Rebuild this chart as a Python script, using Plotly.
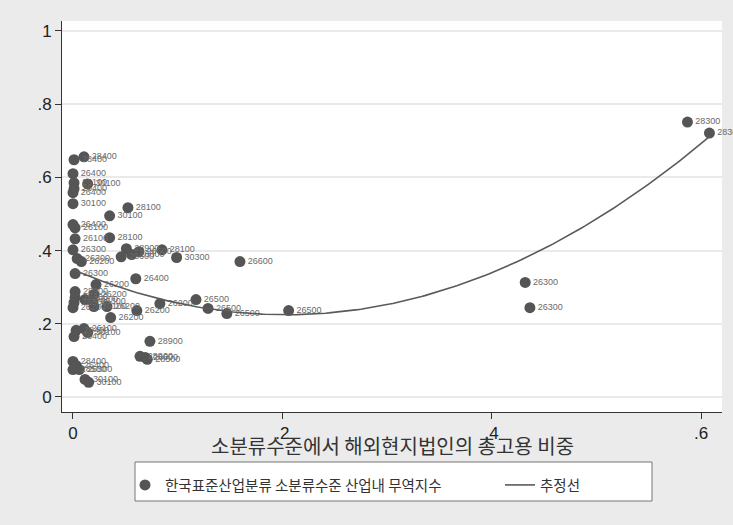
import numpy as np
import plotly.graph_objects as go

# Share of employment in overseas affiliates (x) vs intra-industry trade index (y)
emp_share = [0.0105, 0.001, 0.000, 0.001, 0.014, 0.001, 0.000, 0.000, 0.0525, 0.035,
             0.000, 0.002, 0.002, 0.035, 0.000, 0.004, 0.008, 0.051, 0.046, 0.056,
             0.063, 0.085, 0.099, 0.1595, 0.060, 0.002, 0.022, 0.002, 0.002, 0.001,
             0.000, 0.0115, 0.020, 0.019, 0.020, 0.0325, 0.061, 0.083, 0.1175, 0.129,
             0.147, 0.206, 0.036, 0.003, 0.0105, 0.014, 0.001, 0.0735, 0.064, 0.069,
             0.071, 0.000, 0.003, 0.000, 0.006, 0.0115, 0.015, 0.587, 0.608, 0.432,
             0.4365]
iit_index = [0.656, 0.648, 0.610, 0.585, 0.582, 0.569, 0.558, 0.528, 0.517, 0.495,
             0.471, 0.462, 0.432, 0.435, 0.402, 0.378, 0.370, 0.405, 0.383, 0.389,
             0.397, 0.402, 0.381, 0.370, 0.323, 0.337, 0.307, 0.288, 0.272, 0.258,
             0.244, 0.266, 0.280, 0.261, 0.247, 0.247, 0.236, 0.255, 0.266, 0.242,
             0.228, 0.236, 0.217, 0.182, 0.187, 0.176, 0.165, 0.152, 0.111, 0.108,
             0.103, 0.097, 0.086, 0.075, 0.075, 0.048, 0.040, 0.751, 0.721, 0.313,
             0.244]
ksic_code = ["28400", "28400", "26400", "26100", "30100", "26400", "26400", "30100", "28100", "30100",
             "26400", "26100", "26100", "28100", "26300", "26300", "26200", "28900", "26600", "26800",
             "26600", "28100", "30300", "26600", "26400", "26300", "26200", "28900", "26200", "26500",
             "26200", "26200", "26200", "26300", "26100", "26200", "26200", "26200", "26500", "26500",
             "26500", "26500", "26200", "28400", "26100", "30100", "26400", "28900", "28900", "26600",
             "28500", "28400", "26400", "28500", "26500", "30100", "30100", "28300", "28300", "26300",
             "26300"]

x_ticks = [0, 0.2, 0.4, 0.6]
x_tick_text = ["0", ".2", ".4", ".6"]
y_ticks = [0, 0.2, 0.4, 0.6, 0.8, 1.0]
y_tick_text = ["0", ".2", ".4", ".6", ".8", "1"]

# Quadratic fit over the observed range
coef = np.polyfit(emp_share, iit_index, 2)
xs = np.linspace(min(emp_share), max(emp_share), 200)
ys = np.polyval(coef, xs)

MARK = "#555555"
KFONT = "Noto Sans CJK KR"

# plot-area geometry in pixels, used to place the legend box
PL, PW, PB, PH = 62, 660, 412, 391


def px_x(p):
    return (p - PL) / PW


def px_y(p):
    return -(p - PB) / PH


fig = go.Figure()
fig.add_trace(go.Scatter(
    x=emp_share, y=iit_index, mode="markers+text", text=ksic_code,
    textposition="middle right",
    textfont=dict(size=9, color="#6a6a6a", family="Liberation Sans"),
    marker=dict(size=11, color=MARK),
    cliponaxis=False,
    name="한국표준산업분류 소분류수준 산업내 무역지수",
    legend="legend",
))
fig.add_trace(go.Scatter(
    x=xs, y=ys, mode="lines", line=dict(color="#5a5a5a", width=1.6),
    name="추정선",
    legend="legend2",
))

legend_common = dict(
    orientation="h", xanchor="left", yanchor="top", y=px_y(469),
    bgcolor="rgba(0,0,0,0)", borderwidth=0,
    font=dict(family=KFONT, size=14.5, color="#333333"),
)

fig.update_layout(
    width=733, height=525,
    margin=dict(l=62, r=11, t=21, b=113),
    paper_bgcolor="#ebebeb", plot_bgcolor="white",
    showlegend=True,
    legend=dict(x=px_x(125), **legend_common),
    legend2=dict(x=px_x(500), **legend_common),
    shapes=[dict(
        type="rect", xref="paper", yref="paper",
        x0=px_x(135), x1=px_x(652), y0=px_y(501), y1=px_y(462),
        line=dict(color="#777777", width=1), fillcolor="white", layer="below",
    )],
    annotations=[dict(
        text="소분류수준에서 해외현지법인의 총고용 비중", xref="paper", yref="paper",
        x=0.5, y=px_y(445), xanchor="center", yanchor="middle", showarrow=False,
        font=dict(family=KFONT, size=20, color="#333333"),
    )],
)
fig.update_xaxes(
    range=[-0.0105, 0.6200], tickvals=x_ticks, ticktext=x_tick_text,
    showgrid=False, zeroline=False, showline=True, linecolor="#333333", linewidth=1,
    ticks="outside", ticklen=6, tickcolor="#333333",
    tickfont=dict(family="Liberation Sans", size=17, color="#222222"),
)
fig.update_yaxes(
    range=[-0.041, 1.027], tickvals=y_ticks, ticktext=y_tick_text,
    showgrid=True, gridcolor="#eaeaea", gridwidth=1.5, zeroline=False,
    showline=True, linecolor="#333333", linewidth=1,
    ticks="outside", ticklen=6, tickcolor="#333333",
    tickfont=dict(family="Liberation Sans", size=17, color="#222222"),
)

fig.write_html("out.html")
